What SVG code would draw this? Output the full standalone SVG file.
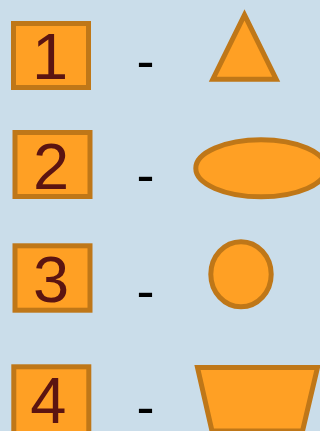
<svg xmlns="http://www.w3.org/2000/svg" width="320" height="431" viewBox="0 0 320 431">
<style>
.box{fill:#FFA024;stroke:#BF7718;stroke-width:5}
.shape{fill:#FFA024;stroke:#BF7718;stroke-width:5}
.num{font-family:"Liberation Sans",Arial,sans-serif;font-size:65px;fill:#5B1411;text-anchor:middle}
.dash{font-family:"Liberation Sans",Arial,sans-serif;font-size:54px;fill:#000}
</style>
<rect width="320" height="431" fill="#CADDEA"/>
<g id="key1">
<rect class="box" x="13.5" y="23.5" width="75" height="64"/>
<text class="num" x="50" y="78.7">1</text>
</g>
<g id="key2">
<rect class="box" x="15" y="132.5" width="75" height="64"/>
<text class="num" x="51" y="189">2</text>
</g>
<g id="key3">
<rect class="box" x="15" y="245.8" width="75" height="64.4"/>
<text class="num" x="51" y="302.3">3</text>
</g>
<g id="key4">
<rect class="box" x="13.8" y="366.8" width="75" height="70"/>
<text class="num" x="48.3" y="422.7">4</text>
</g>
<g id="dashes">
<text class="dash" x="136.6" y="79">-</text>
<text class="dash" x="136.6" y="193.3">-</text>
<text class="dash" x="136.6" y="308.5">-</text>
<text class="dash" x="136.6" y="425">-</text>
</g>
<g id="triangle">
<polygon class="shape" points="244.5,14.8 276.2,79.2 212.8,79.2"/>
</g>
<g id="ellipse">
<ellipse class="shape" cx="261" cy="168.3" rx="65.2" ry="28.5"/>
</g>
<g id="circle">
<ellipse class="shape" cx="241" cy="274.3" rx="30.2" ry="32.5"/>
</g>
<g id="trapezoid">
<polygon class="shape" points="197.5,367.5 317.5,367.5 302.5,431 212,431"/>
</g>
</svg>
